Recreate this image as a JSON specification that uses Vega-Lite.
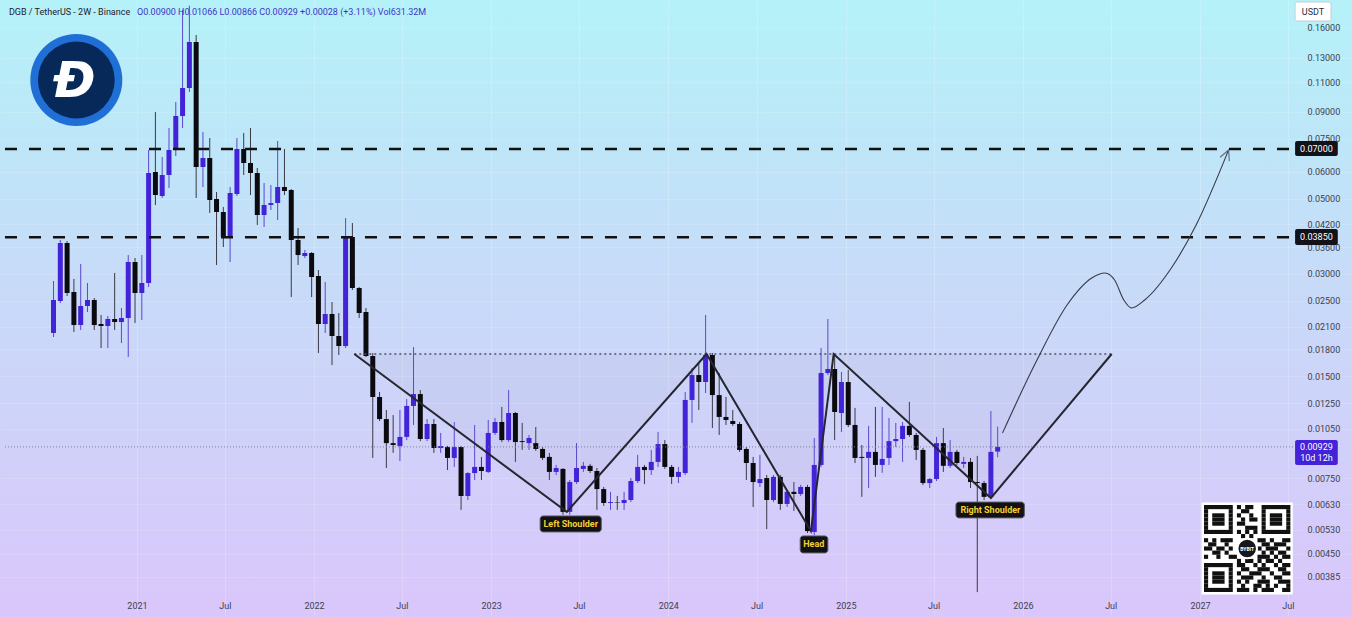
{
  "$schema": "https://vega.github.io/schema/vega-lite/v6.json",
  "width": 1352,
  "height": 617,
  "padding": 0,
  "autosize": {"type": "none"},
  "background": "#c9d8f8",
  "view": {
    "stroke": null,
    "fill": {"gradient": "linear", "x1": 0, "y1": 0, "x2": 0, "y2": 1,
      "stops": [{"offset": 0, "color": "#b4f2f8"}, {"offset": 0.45, "color": "#c7dbf8"}, {"offset": 1, "color": "#dac6fb"}]}
  },
  "datasets": {
    "candles": [
      {"t":"2020-07-13","o":0.02011,"h":0.02861,"l":0.01957,"c":0.02515},
      {"t":"2020-07-27","o":0.02498,"h":0.03777,"l":0.02464,"c":0.03701},
      {"t":"2020-08-10","o":0.03701,"h":0.03751,"l":0.02584,"c":0.02637},
      {"t":"2020-08-24","o":0.02655,"h":0.02900,"l":0.02024,"c":0.02123},
      {"t":"2020-09-07","o":0.02123,"h":0.03210,"l":0.02052,"c":0.02415},
      {"t":"2020-09-21","o":0.02415,"h":0.02822,"l":0.02318,"c":0.02515},
      {"t":"2020-10-05","o":0.02515,"h":0.02549,"l":0.02052,"c":0.02123},
      {"t":"2020-10-19","o":0.02137,"h":0.02272,"l":0.01816,"c":0.02108},
      {"t":"2020-11-02","o":0.02108,"h":0.02256,"l":0.01816,"c":0.02211},
      {"t":"2020-11-16","o":0.02211,"h":0.03020,"l":0.02052,"c":0.02166},
      {"t":"2020-11-30","o":0.02166,"h":0.02382,"l":0.01878,"c":0.02226},
      {"t":"2020-12-14","o":0.02226,"h":0.03411,"l":0.01709,"c":0.03254},
      {"t":"2020-12-28","o":0.03254,"h":0.03343,"l":0.02152,"c":0.02637},
      {"t":"2021-01-11","o":0.02637,"h":0.03411,"l":0.02196,"c":0.02822},
      {"t":"2021-01-25","o":0.02822,"h":0.06952,"l":0.02746,"c":0.05949},
      {"t":"2021-02-08","o":0.05989,"h":0.08995,"l":0.04788,"c":0.05124},
      {"t":"2021-02-22","o":0.05090,"h":0.06629,"l":0.05021,"c":0.05869},
      {"t":"2021-03-08","o":0.05869,"h":0.08070,"l":0.05373,"c":0.06952},
      {"t":"2021-03-22","o":0.07000,"h":0.09626,"l":0.06675,"c":0.08754},
      {"t":"2021-04-05","o":0.08754,"h":0.18000,"l":0.08070,"c":0.10584},
      {"t":"2021-04-19","o":0.10584,"h":0.18500,"l":0.10301,"c":0.14458},
      {"t":"2021-05-03","o":0.14458,"h":0.15161,"l":0.05021,"c":0.06195},
      {"t":"2021-05-17","o":0.06195,"h":0.07855,"l":0.05410,"c":0.06585},
      {"t":"2021-05-31","o":0.06585,"h":0.07541,"l":0.04536,"c":0.04953},
      {"t":"2021-06-14","o":0.04987,"h":0.05230,"l":0.03188,"c":0.04567},
      {"t":"2021-06-28","o":0.04567,"h":0.04723,"l":0.03602,"c":0.03855},
      {"t":"2021-07-12","o":0.03881,"h":0.05410,"l":0.03254,"c":0.05194},
      {"t":"2021-07-26","o":0.05159,"h":0.07541,"l":0.05090,"c":0.07000},
      {"t":"2021-08-09","o":0.07000,"h":0.07802,"l":0.05869,"c":0.06365},
      {"t":"2021-08-23","o":0.06365,"h":0.08070,"l":0.05124,"c":0.05949},
      {"t":"2021-09-06","o":0.05949,"h":0.06153,"l":0.04181,"c":0.04475},
      {"t":"2021-09-20","o":0.04475,"h":0.05559,"l":0.04124,"c":0.04788},
      {"t":"2021-10-04","o":0.04788,"h":0.05484,"l":0.04629,"c":0.04853},
      {"t":"2021-10-18","o":0.04853,"h":0.07390,"l":0.04325,"c":0.05410},
      {"t":"2021-11-01","o":0.05410,"h":0.07000,"l":0.05124,"c":0.05265},
      {"t":"2021-11-15","o":0.05301,"h":0.05337,"l":0.02566,"c":0.03777},
      {"t":"2021-11-29","o":0.03777,"h":0.04097,"l":0.03188,"c":0.03411},
      {"t":"2021-12-13","o":0.03388,"h":0.03529,"l":0.03343,"c":0.03458},
      {"t":"2021-12-27","o":0.03458,"h":0.03481,"l":0.02566,"c":0.02939},
      {"t":"2022-01-10","o":0.02959,"h":0.03082,"l":0.01756,"c":0.02137},
      {"t":"2022-01-24","o":0.02137,"h":0.02841,"l":0.02011,"c":0.02287},
      {"t":"2022-02-07","o":0.02287,"h":0.02481,"l":0.01618,"c":0.01970},
      {"t":"2022-02-21","o":0.01970,"h":0.02303,"l":0.01732,"c":0.01841},
      {"t":"2022-03-07","o":0.01841,"h":0.04384,"l":0.01816,"c":0.03855},
      {"t":"2022-03-21","o":0.03855,"h":0.04238,"l":0.02691,"c":0.02728},
      {"t":"2022-04-04","o":0.02728,"h":0.02745,"l":0.02226,"c":0.02303},
      {"t":"2022-04-18","o":0.02318,"h":0.02382,"l":0.01709,"c":0.01720},
      {"t":"2022-05-02","o":0.01720,"h":0.01756,"l":0.00862,"c":0.01303},
      {"t":"2022-05-16","o":0.01303,"h":0.01348,"l":0.01107,"c":0.01122},
      {"t":"2022-05-30","o":0.01122,"h":0.01193,"l":0.00805,"c":0.00953},
      {"t":"2022-06-13","o":0.00953,"h":0.01153,"l":0.00892,"c":0.00941},
      {"t":"2022-06-27","o":0.00934,"h":0.01193,"l":0.00844,"c":0.00994},
      {"t":"2022-07-11","o":0.00994,"h":0.01285,"l":0.00973,"c":0.01226},
      {"t":"2022-07-25","o":0.01226,"h":0.01828,"l":0.01078,"c":0.01329},
      {"t":"2022-08-08","o":0.01329,"h":0.01366,"l":0.00966,"c":0.00980},
      {"t":"2022-08-22","o":0.00980,"h":0.01122,"l":0.00966,"c":0.01085},
      {"t":"2022-09-05","o":0.01085,"h":0.01122,"l":0.00892,"c":0.00922},
      {"t":"2022-09-19","o":0.00922,"h":0.01021,"l":0.00892,"c":0.00934},
      {"t":"2022-10-03","o":0.00928,"h":0.00935,"l":0.00794,"c":0.00862},
      {"t":"2022-10-17","o":0.00862,"h":0.01100,"l":0.00811,"c":0.00928},
      {"t":"2022-10-31","o":0.00928,"h":0.00935,"l":0.00606,"c":0.00666},
      {"t":"2022-11-14","o":0.00666,"h":0.00783,"l":0.00648,"c":0.00778},
      {"t":"2022-11-28","o":0.00778,"h":0.01078,"l":0.00742,"c":0.00811},
      {"t":"2022-12-12","o":0.00811,"h":0.00868,"l":0.00742,"c":0.00789},
      {"t":"2022-12-26","o":0.00784,"h":0.01115,"l":0.00778,"c":0.01021},
      {"t":"2023-01-09","o":0.01021,"h":0.01130,"l":0.01007,"c":0.01100},
      {"t":"2023-01-23","o":0.01100,"h":0.01218,"l":0.00960,"c":0.00973},
      {"t":"2023-02-06","o":0.00973,"h":0.01366,"l":0.00960,"c":0.01169},
      {"t":"2023-02-20","o":0.01169,"h":0.01177,"l":0.00839,"c":0.00960},
      {"t":"2023-03-06","o":0.00966,"h":0.01093,"l":0.00910,"c":0.00960},
      {"t":"2023-03-20","o":0.00953,"h":0.01007,"l":0.00910,"c":0.00987},
      {"t":"2023-04-03","o":0.00953,"h":0.01063,"l":0.00904,"c":0.00916},
      {"t":"2023-04-17","o":0.00916,"h":0.00928,"l":0.00850,"c":0.00862},
      {"t":"2023-05-01","o":0.00868,"h":0.00892,"l":0.00742,"c":0.00784},
      {"t":"2023-05-15","o":0.00784,"h":0.00822,"l":0.00768,"c":0.00805},
      {"t":"2023-05-29","o":0.00800,"h":0.00805,"l":0.00586,"c":0.00598},
      {"t":"2023-06-12","o":0.00598,"h":0.00742,"l":0.00586,"c":0.00732},
      {"t":"2023-06-26","o":0.00732,"h":0.00953,"l":0.00723,"c":0.00805},
      {"t":"2023-07-10","o":0.00800,"h":0.00839,"l":0.00784,"c":0.00817},
      {"t":"2023-07-24","o":0.00817,"h":0.00828,"l":0.00778,"c":0.00789},
      {"t":"2023-08-07","o":0.00789,"h":0.00805,"l":0.00606,"c":0.00698},
      {"t":"2023-08-21","o":0.00698,"h":0.00708,"l":0.00623,"c":0.00635},
      {"t":"2023-09-04","o":0.00635,"h":0.00685,"l":0.00606,"c":0.00639},
      {"t":"2023-09-18","o":0.00639,"h":0.00666,"l":0.00606,"c":0.00637},
      {"t":"2023-10-02","o":0.00635,"h":0.00685,"l":0.00606,"c":0.00648},
      {"t":"2023-10-16","o":0.00648,"h":0.00752,"l":0.00639,"c":0.00737},
      {"t":"2023-10-30","o":0.00737,"h":0.00880,"l":0.00727,"c":0.00811},
      {"t":"2023-11-13","o":0.00811,"h":0.00822,"l":0.00722,"c":0.00794},
      {"t":"2023-11-27","o":0.00794,"h":0.00910,"l":0.00768,"c":0.00839},
      {"t":"2023-12-11","o":0.00839,"h":0.01028,"l":0.00811,"c":0.00947},
      {"t":"2023-12-25","o":0.00947,"h":0.00973,"l":0.00800,"c":0.00811},
      {"t":"2024-01-08","o":0.00811,"h":0.00822,"l":0.00722,"c":0.00758},
      {"t":"2024-01-22","o":0.00758,"h":0.00811,"l":0.00727,"c":0.00784},
      {"t":"2024-02-05","o":0.00778,"h":0.01348,"l":0.00768,"c":0.01277},
      {"t":"2024-02-19","o":0.01277,"h":0.01586,"l":0.01093,"c":0.01512},
      {"t":"2024-03-04","o":0.01512,"h":0.01640,"l":0.01193,"c":0.01442},
      {"t":"2024-03-18","o":0.01442,"h":0.02272,"l":0.01338,"c":0.01732},
      {"t":"2024-04-01","o":0.01732,"h":0.01756,"l":0.01056,"c":0.01320},
      {"t":"2024-04-15","o":0.01320,"h":0.01533,"l":0.01007,"c":0.01138},
      {"t":"2024-04-29","o":0.01138,"h":0.01303,"l":0.01078,"c":0.01115},
      {"t":"2024-05-13","o":0.01107,"h":0.01193,"l":0.01071,"c":0.01085},
      {"t":"2024-05-27","o":0.01085,"h":0.01100,"l":0.00898,"c":0.00910},
      {"t":"2024-06-10","o":0.00916,"h":0.00928,"l":0.00742,"c":0.00833},
      {"t":"2024-06-24","o":0.00833,"h":0.00868,"l":0.00618,"c":0.00732},
      {"t":"2024-07-08","o":0.00727,"h":0.00880,"l":0.00708,"c":0.00747},
      {"t":"2024-07-22","o":0.00752,"h":0.00768,"l":0.00532,"c":0.00648},
      {"t":"2024-08-05","o":0.00648,"h":0.00768,"l":0.00639,"c":0.00758},
      {"t":"2024-08-19","o":0.00758,"h":0.00768,"l":0.00606,"c":0.00631},
      {"t":"2024-09-02","o":0.00631,"h":0.00694,"l":0.00618,"c":0.00685},
      {"t":"2024-09-16","o":0.00685,"h":0.00732,"l":0.00602,"c":0.00675},
      {"t":"2024-09-30","o":0.00675,"h":0.00718,"l":0.00666,"c":0.00708},
      {"t":"2024-10-14","o":0.00708,"h":0.00718,"l":0.00518,"c":0.00525},
      {"t":"2024-10-28","o":0.00522,"h":0.00987,"l":0.00511,"c":0.00822},
      {"t":"2024-11-11","o":0.00822,"h":0.01816,"l":0.00811,"c":0.01533},
      {"t":"2024-11-25","o":0.01533,"h":0.02211,"l":0.01512,"c":0.01575},
      {"t":"2024-12-09","o":0.01575,"h":0.01732,"l":0.00973,"c":0.01177},
      {"t":"2024-12-23","o":0.01169,"h":0.01543,"l":0.01028,"c":0.01442},
      {"t":"2025-01-06","o":0.01442,"h":0.01564,"l":0.01063,"c":0.01078},
      {"t":"2025-01-20","o":0.01078,"h":0.01210,"l":0.00833,"c":0.00862},
      {"t":"2025-02-03","o":0.00868,"h":0.00941,"l":0.00662,"c":0.00862},
      {"t":"2025-02-17","o":0.00862,"h":0.01071,"l":0.00703,"c":0.00898},
      {"t":"2025-03-03","o":0.00898,"h":0.01218,"l":0.00758,"c":0.00822},
      {"t":"2025-03-17","o":0.00822,"h":0.01218,"l":0.00779,"c":0.00856},
      {"t":"2025-03-31","o":0.00862,"h":0.01130,"l":0.00822,"c":0.00966},
      {"t":"2025-04-14","o":0.00966,"h":0.01093,"l":0.00928,"c":0.00980},
      {"t":"2025-04-28","o":0.00980,"h":0.01100,"l":0.00839,"c":0.01071},
      {"t":"2025-05-12","o":0.01071,"h":0.01260,"l":0.00994,"c":0.01007},
      {"t":"2025-05-26","o":0.01007,"h":0.01021,"l":0.00850,"c":0.00910},
      {"t":"2025-06-09","o":0.00910,"h":0.00922,"l":0.00717,"c":0.00727},
      {"t":"2025-06-23","o":0.00727,"h":0.00752,"l":0.00703,"c":0.00747},
      {"t":"2025-07-07","o":0.00747,"h":0.00994,"l":0.00737,"c":0.00953},
      {"t":"2025-07-21","o":0.00953,"h":0.01056,"l":0.00784,"c":0.00817},
      {"t":"2025-08-04","o":0.00817,"h":0.00973,"l":0.00805,"c":0.00898},
      {"t":"2025-08-18","o":0.00898,"h":0.00910,"l":0.00822,"c":0.00833},
      {"t":"2025-09-01","o":0.00828,"h":0.00868,"l":0.00805,"c":0.00839},
      {"t":"2025-09-15","o":0.00839,"h":0.00862,"l":0.00703,"c":0.00732},
      {"t":"2025-09-29","o":0.00732,"h":0.00874,"l":0.00347,"c":0.00727},
      {"t":"2025-10-13","o":0.00727,"h":0.00737,"l":0.00648,"c":0.00662},
      {"t":"2025-10-27","o":0.00662,"h":0.01185,"l":0.00656,"c":0.00898},
      {"t":"2025-11-10","o":0.00900,"h":0.01066,"l":0.00866,"c":0.00929}
    ],
    "pat": [
      {"t":"2022-03-25","p":0.01744},
      {"t":"2023-06-06","p":0.00598},
      {"t":"2024-03-20","p":0.01744},
      {"t":"2024-10-21","p":0.00525},
      {"t":"2024-12-07","p":0.01744},
      {"t":"2025-10-27","p":0.00657},
      {"t":"2026-07-03","p":0.01744}
    ],
    "proj": [
      {"t":"2025-11-20","p":0.01021},
      {"t":"2026-01-30","p":0.01674},
      {"t":"2026-04-02","p":0.02431},
      {"t":"2026-05-23","p":0.02919},
      {"t":"2026-06-19","p":0.03020},
      {"t":"2026-07-09","p":0.02880},
      {"t":"2026-07-28","p":0.02515},
      {"t":"2026-08-13","p":0.02382},
      {"t":"2026-09-09","p":0.02515},
      {"t":"2026-11-03","p":0.03124},
      {"t":"2026-12-24","p":0.04181},
      {"t":"2027-02-28","p":0.06900}
    ],
    "arrow": [{"t":"2027-02-25","p":0.06739}],
    "levels": [
      {"p":0.07,"t1":"2020-04-04","t2":"2027-07-12"},
      {"p":0.0385,"t1":"2020-04-04","t2":"2027-07-12"}
    ],
    "cur": [{"p":0.00929,"t1":"2020-04-04","t2":"2027-07-16"}],
    "neck": [{"p":0.01744,"t1":"2022-03-25","t2":"2026-07-03"}],
    "tags": [
      {"t1":"2023-04-12","t2":"2023-08-16","p1":0.005816,"p2":0.005219,"tc":"2023-06-14","pc":0.005508,"txt":"Left Shoulder"},
      {"t1":"2024-09-29","t2":"2024-11-25","p1":0.005079,"p2":0.004527,"tc":"2024-10-27","pc":0.004808,"txt":"Head"},
      {"t1":"2025-08-16","t2":"2026-01-04","p1":0.00639,"p2":0.00574,"tc":"2025-10-26","pc":0.00606,"txt":"Right Shoulder"}
    ],
    "pbox": [
      {"t1":"2027-07-16","t2":"2027-10-12","p1":0.07390,"p2":0.06675,"kind":"level"},
      {"t1":"2027-07-16","t2":"2027-10-12","p1":0.04070,"p2":0.03651,"kind":"level"},
      {"t1":"2027-07-16","t2":"2027-10-12","p1":0.00973,"p2":0.00822,"kind":"last"}
    ],
    "ptext": [
      {"t":"2027-08-29","p":0.07,"txt":"0.07000"},
      {"t":"2027-08-29","p":0.0385,"txt":"0.03850"},
      {"t":"2027-08-29","p":0.00929,"txt":"0.00929"},
      {"t":"2027-08-29","p":0.00862,"txt":"10d 12h"}
    ],
    "usdt": [{"t1":"2027-07-16","t2":"2027-09-28","p1":0.18963,"p2":0.16672,"tc":"2027-08-22","pc":0.1772,"txt":"USDT"}],
    "logo": [{"t":"2020-08-29","p":0.11174,"txt":"Ð"}],
    "legendTitle": [{"t":"2020-04-12","p":0.1772,"txt":"DGB / TetherUS - 2W - Binance"}],
    "legendVals": [{"t":"2021-01-01","p":0.1772,"txt":"O0.00900  H0.01066  L0.00866  C0.00929  +0.00028 (+3.11%)  Vol631.32M"}],
    "qrbg": [{"t1":1799039339712,"t2":1815296410368,"p1":0.0063703,"p2":0.0034151}],
    "qrcenter": [{"t":1807167875040,"p":0.0046643,"txt":"BYBIT"}],
    "qcol": [
      {"i":0,"t":1799478720000},{"i":1,"t":1800211020480},{"i":2,"t":1800943320960},{"i":3,"t":1801675621440},
      {"i":4,"t":1802407921920},{"i":5,"t":1803140222400},{"i":6,"t":1803872522880},{"i":7,"t":1804604823360},
      {"i":8,"t":1805337123840},{"i":9,"t":1806069424320},{"i":10,"t":1806801724800},{"i":11,"t":1807534025280},
      {"i":12,"t":1808266325760},{"i":13,"t":1808998626240},{"i":14,"t":1809730926720},{"i":15,"t":1810463227200},
      {"i":16,"t":1811195527680},{"i":17,"t":1811927828160},{"i":18,"t":1812660128640},{"i":19,"t":1813392429120},
      {"i":20,"t":1814124729600},{"i":21,"t":1814857030080}
    ],
    "qrow": [
      {"i":0,"p":0.0062639},{"i":1,"p":0.0060904},{"i":2,"p":0.0059217},{"i":3,"p":0.0057577},
      {"i":4,"p":0.0055982},{"i":5,"p":0.0054432},{"i":6,"p":0.0052924},{"i":7,"p":0.0051458},
      {"i":8,"p":0.0050033},{"i":9,"p":0.0048647},{"i":10,"p":0.0047300},{"i":11,"p":0.0045990},
      {"i":12,"p":0.0044716},{"i":13,"p":0.0043478},{"i":14,"p":0.0042274},{"i":15,"p":0.0041103},
      {"i":16,"p":0.0039965},{"i":17,"p":0.0038858},{"i":18,"p":0.0037782},{"i":19,"p":0.0036735},
      {"i":20,"p":0.0035718},{"i":21,"p":0.0034729}
    ],
    "qr": [
      {"r":0,"s":1,"a":0,"b":7},{"r":0,"s":1,"a":8,"b":9},{"r":0,"s":1,"a":10,"b":12},{"r":0,"s":1,"a":14,"b":21},
      {"r":1,"s":2,"a":0,"b":1},{"r":1,"s":2,"a":6,"b":7},{"r":1,"s":2,"a":9,"b":11},{"r":1,"s":2,"a":14,"b":15},{"r":1,"s":2,"a":20,"b":21},
      {"r":2,"s":3,"a":0,"b":1},{"r":2,"s":3,"a":2,"b":5},{"r":2,"s":3,"a":6,"b":7},{"r":2,"s":3,"a":8,"b":9},{"r":2,"s":3,"a":11,"b":12},{"r":2,"s":3,"a":14,"b":15},{"r":2,"s":3,"a":16,"b":19},{"r":2,"s":3,"a":20,"b":21},
      {"r":3,"s":4,"a":0,"b":1},{"r":3,"s":4,"a":2,"b":5},{"r":3,"s":4,"a":6,"b":7},{"r":3,"s":4,"a":9,"b":10},{"r":3,"s":4,"a":11,"b":13},{"r":3,"s":4,"a":14,"b":15},{"r":3,"s":4,"a":16,"b":19},{"r":3,"s":4,"a":20,"b":21},
      {"r":4,"s":5,"a":0,"b":1},{"r":4,"s":5,"a":2,"b":5},{"r":4,"s":5,"a":6,"b":7},{"r":4,"s":5,"a":8,"b":10},{"r":4,"s":5,"a":14,"b":15},{"r":4,"s":5,"a":16,"b":19},{"r":4,"s":5,"a":20,"b":21},
      {"r":5,"s":6,"a":0,"b":1},{"r":5,"s":6,"a":6,"b":7},{"r":5,"s":6,"a":10,"b":13},{"r":5,"s":6,"a":14,"b":15},{"r":5,"s":6,"a":20,"b":21},
      {"r":6,"s":7,"a":0,"b":7},{"r":6,"s":7,"a":8,"b":9},{"r":6,"s":7,"a":10,"b":11},{"r":6,"s":7,"a":12,"b":13},{"r":6,"s":7,"a":14,"b":21},
      {"r":7,"s":8,"a":9,"b":10},{"r":7,"s":8,"a":11,"b":12},
      {"r":8,"s":9,"a":0,"b":1},{"r":8,"s":9,"a":2,"b":3},{"r":8,"s":9,"a":4,"b":7},{"r":8,"s":9,"a":13,"b":15},{"r":8,"s":9,"a":16,"b":17},{"r":8,"s":9,"a":19,"b":21},
      {"r":9,"s":10,"a":1,"b":3},{"r":9,"s":10,"a":5,"b":6},{"r":9,"s":10,"a":14,"b":16},{"r":9,"s":10,"a":17,"b":20},
      {"r":10,"s":11,"a":0,"b":2},{"r":10,"s":11,"a":3,"b":5},{"r":10,"s":11,"a":6,"b":7},{"r":10,"s":11,"a":13,"b":14},{"r":10,"s":11,"a":15,"b":18},{"r":10,"s":11,"a":20,"b":21},
      {"r":11,"s":12,"a":2,"b":4},{"r":11,"s":12,"a":5,"b":6},{"r":11,"s":12,"a":14,"b":15},{"r":11,"s":12,"a":16,"b":17},{"r":11,"s":12,"a":18,"b":20},
      {"r":12,"s":13,"a":0,"b":1},{"r":12,"s":13,"a":3,"b":4},{"r":12,"s":13,"a":6,"b":8},{"r":12,"s":13,"a":13,"b":16},{"r":12,"s":13,"a":17,"b":18},{"r":12,"s":13,"a":19,"b":21},
      {"r":13,"s":14,"a":8,"b":9},{"r":13,"s":14,"a":10,"b":12},{"r":13,"s":14,"a":13,"b":14},{"r":13,"s":14,"a":15,"b":17},{"r":13,"s":14,"a":18,"b":19},
      {"r":14,"s":15,"a":0,"b":7},{"r":14,"s":15,"a":8,"b":10},{"r":14,"s":15,"a":12,"b":13},{"r":14,"s":15,"a":14,"b":15},{"r":14,"s":15,"a":17,"b":18},{"r":14,"s":15,"a":19,"b":21},
      {"r":15,"s":16,"a":0,"b":1},{"r":15,"s":16,"a":6,"b":7},{"r":15,"s":16,"a":9,"b":11},{"r":15,"s":16,"a":13,"b":16},{"r":15,"s":16,"a":18,"b":20},
      {"r":16,"s":17,"a":0,"b":1},{"r":16,"s":17,"a":2,"b":5},{"r":16,"s":17,"a":6,"b":7},{"r":16,"s":17,"a":8,"b":9},{"r":16,"s":17,"a":11,"b":14},{"r":16,"s":17,"a":16,"b":17},{"r":16,"s":17,"a":19,"b":21},
      {"r":17,"s":18,"a":0,"b":1},{"r":17,"s":18,"a":2,"b":5},{"r":17,"s":18,"a":6,"b":7},{"r":17,"s":18,"a":9,"b":12},{"r":17,"s":18,"a":14,"b":15},{"r":17,"s":18,"a":17,"b":19},
      {"r":18,"s":19,"a":0,"b":1},{"r":18,"s":19,"a":2,"b":5},{"r":18,"s":19,"a":6,"b":7},{"r":18,"s":19,"a":8,"b":9},{"r":18,"s":19,"a":10,"b":11},{"r":18,"s":19,"a":13,"b":16},{"r":18,"s":19,"a":18,"b":21},
      {"r":19,"s":20,"a":0,"b":1},{"r":19,"s":20,"a":6,"b":7},{"r":19,"s":20,"a":9,"b":10},{"r":19,"s":20,"a":12,"b":14},{"r":19,"s":20,"a":15,"b":16},{"r":19,"s":20,"a":17,"b":18},{"r":19,"s":20,"a":20,"b":21},
      {"r":20,"s":21,"a":0,"b":7},{"r":20,"s":21,"a":8,"b":11},{"r":20,"s":21,"a":12,"b":13},{"r":20,"s":21,"a":14,"b":17},{"r":20,"s":21,"a":19,"b":21}
    ]
  },
  "layer": [
    {
      "data": {"name": "candles"},
      "mark": {"type": "rule", "strokeWidth": 1},
      "encoding": {
        "x": {
          "field": "t", "type": "temporal", "title": null,
          "scale": {"type": "utc", "domain": [{"year": 2020, "month": 4, "date": 4, "utc": true}, {"year": 2027, "month": 10, "date": 31, "utc": true}]},
          "axis": {
            "orient": "bottom", "offset": -16, "domain": false, "ticks": false, "tickSize": 0, "labelPadding": 0,
            "values": [
              {"year": 2021, "month": 1, "date": 1, "utc": true}, {"year": 2021, "month": 7, "date": 1, "utc": true},
              {"year": 2022, "month": 1, "date": 1, "utc": true}, {"year": 2022, "month": 7, "date": 1, "utc": true},
              {"year": 2023, "month": 1, "date": 1, "utc": true}, {"year": 2023, "month": 7, "date": 1, "utc": true},
              {"year": 2024, "month": 1, "date": 1, "utc": true}, {"year": 2024, "month": 7, "date": 1, "utc": true},
              {"year": 2025, "month": 1, "date": 1, "utc": true}, {"year": 2025, "month": 7, "date": 1, "utc": true},
              {"year": 2026, "month": 1, "date": 1, "utc": true}, {"year": 2026, "month": 7, "date": 1, "utc": true},
              {"year": 2027, "month": 1, "date": 1, "utc": true}, {"year": 2027, "month": 7, "date": 1, "utc": true}
            ],
            "labelExpr": "utcFormat(datum.value, '%m') == '01' ? utcFormat(datum.value, '%Y') : 'Jul'",
            "labelFontSize": 9, "labelColor": "#3d4150", "labelFlush": false, "labelOverlap": false,
            "grid": true, "gridColor": "#ffffff", "gridOpacity": 0.2, "gridWidth": 1, "title": null
          }
        },
        "y": {
          "field": "l", "type": "quantitative", "title": null,
          "scale": {"type": "log", "domain": [0.0029318, 0.19222], "nice": false},
          "axis": {
            "orient": "right", "offset": -47, "domain": false, "ticks": false, "tickSize": 0, "labelPadding": 2,
            "values": [0.16, 0.13, 0.11, 0.09, 0.075, 0.06, 0.05, 0.042, 0.036, 0.03, 0.025, 0.021, 0.018, 0.015, 0.0125, 0.0105, 0.0075, 0.0063, 0.0053, 0.0045, 0.00385],
            "format": ".5f", "labelFontSize": 9, "labelColor": "#3d4150", "labelFlush": false, "labelOverlap": false,
            "grid": true, "gridColor": "#ffffff", "gridOpacity": 0.15, "gridWidth": 1, "title": null
          }
        },
        "y2": {"field": "h"},
        "color": {"condition": {"test": "datum.c >= datum.o", "value": "#5b48d0"}, "value": "#3a3a44"}
      }
    },
    {
      "data": {"name": "pat"},
      "mark": {"type": "area", "color": "#6f7196", "opacity": 0.06},
      "encoding": {
        "x": {"field": "t", "type": "temporal", "title": null},
        "y": {"field": "p", "type": "quantitative", "title": null},
        "y2": {"datum": 0.01744}
      }
    },
    {
      "data": {"name": "candles"},
      "mark": {"type": "bar", "size": 5},
      "encoding": {
        "x": {"field": "t", "type": "temporal", "title": null},
        "y": {"field": "o", "type": "quantitative", "title": null},
        "y2": {"field": "c"},
        "color": {"condition": {"test": "datum.c >= datum.o", "value": "#4223d8"}, "value": "#0b0b0f"}
      }
    },
    {
      "data": {"name": "levels"},
      "mark": {"type": "rule", "color": "#111111", "strokeWidth": 2.5, "strokeDash": [12, 12]},
      "encoding": {
        "x": {"field": "t1", "type": "temporal", "title": null},
        "x2": {"field": "t2"},
        "y": {"field": "p", "type": "quantitative", "title": null}
      }
    },
    {
      "data": {"name": "cur"},
      "mark": {"type": "rule", "color": "#7d8096", "strokeWidth": 1, "strokeDash": [1, 2]},
      "encoding": {
        "x": {"field": "t1", "type": "temporal", "title": null},
        "x2": {"field": "t2"},
        "y": {"field": "p", "type": "quantitative", "title": null}
      }
    },
    {
      "data": {"name": "neck"},
      "mark": {"type": "rule", "color": "#4d5066", "strokeWidth": 1.5, "strokeDash": [2, 3]},
      "encoding": {
        "x": {"field": "t1", "type": "temporal", "title": null},
        "x2": {"field": "t2"},
        "y": {"field": "p", "type": "quantitative", "title": null}
      }
    },
    {
      "data": {"name": "pat"},
      "mark": {"type": "line", "color": "#262630", "strokeWidth": 2},
      "encoding": {
        "x": {"field": "t", "type": "temporal", "title": null},
        "y": {"field": "p", "type": "quantitative", "title": null}
      }
    },
    {
      "data": {"name": "proj"},
      "mark": {"type": "line", "color": "#3a3a48", "strokeWidth": 1.1, "interpolate": "monotone"},
      "encoding": {
        "x": {"field": "t", "type": "temporal", "title": null},
        "y": {"field": "p", "type": "quantitative", "title": null}
      }
    },
    {
      "data": {"name": "arrow"},
      "mark": {"type": "point", "shape": "M-1,1L0,-1L1,1", "filled": false, "color": "#3a3a48", "strokeWidth": 1.1, "size": 100, "angle": 23},
      "encoding": {
        "x": {"field": "t", "type": "temporal", "title": null},
        "y": {"field": "p", "type": "quantitative", "title": null}
      }
    },
    {
      "data": {"name": "tags"},
      "mark": {"type": "rect", "color": "#121214", "cornerRadius": 3, "stroke": "#5a5a66", "strokeWidth": 1},
      "encoding": {
        "x": {"field": "t1", "type": "temporal", "title": null},
        "x2": {"field": "t2"},
        "y": {"field": "p1", "type": "quantitative", "title": null},
        "y2": {"field": "p2"}
      }
    },
    {
      "data": {"name": "tags"},
      "mark": {"type": "text", "color": "#f3cf33", "fontSize": 9, "fontWeight": "bold", "align": "center", "baseline": "middle"},
      "encoding": {
        "x": {"field": "tc", "type": "temporal", "title": null},
        "y": {"field": "pc", "type": "quantitative", "title": null},
        "text": {"field": "txt"}
      }
    },
    {
      "data": {"name": "pbox"},
      "mark": {"type": "rect", "cornerRadius": 2},
      "encoding": {
        "x": {"field": "t1", "type": "temporal", "title": null},
        "x2": {"field": "t2"},
        "y": {"field": "p1", "type": "quantitative", "title": null},
        "y2": {"field": "p2"},
        "color": {"field": "kind", "type": "nominal", "legend": null, "scale": {"domain": ["level", "last"], "range": ["#121218", "#4322d8"]}}
      }
    },
    {
      "data": {"name": "ptext"},
      "mark": {"type": "text", "color": "#ffffff", "fontSize": 9, "align": "center", "baseline": "middle"},
      "encoding": {
        "x": {"field": "t", "type": "temporal", "title": null},
        "y": {"field": "p", "type": "quantitative", "title": null},
        "text": {"field": "txt"}
      }
    },
    {
      "data": {"name": "usdt"},
      "mark": {"type": "rect", "color": "#ffffff", "cornerRadius": 2, "stroke": "#c9ccd8", "strokeWidth": 1},
      "encoding": {
        "x": {"field": "t1", "type": "temporal", "title": null},
        "x2": {"field": "t2"},
        "y": {"field": "p1", "type": "quantitative", "title": null},
        "y2": {"field": "p2"}
      }
    },
    {
      "data": {"name": "usdt"},
      "mark": {"type": "text", "color": "#2a2e39", "fontSize": 9, "align": "center", "baseline": "middle"},
      "encoding": {
        "x": {"field": "tc", "type": "temporal", "title": null},
        "y": {"field": "pc", "type": "quantitative", "title": null},
        "text": {"field": "txt"}
      }
    },
    {
      "data": {"name": "logo"},
      "mark": {"type": "point", "shape": "circle", "filled": true, "color": "#1f6fd6", "opacity": 1, "size": 8464},
      "encoding": {
        "x": {"field": "t", "type": "temporal", "title": null},
        "y": {"field": "p", "type": "quantitative", "title": null}
      }
    },
    {
      "data": {"name": "logo"},
      "mark": {"type": "point", "shape": "circle", "filled": true, "color": "#06295a", "opacity": 1, "size": 5900},
      "encoding": {
        "x": {"field": "t", "type": "temporal", "title": null},
        "y": {"field": "p", "type": "quantitative", "title": null}
      }
    },
    {
      "data": {"name": "logo"},
      "mark": {"type": "text", "color": "#ffffff", "font": "DejaVu Sans", "fontSize": 50, "fontWeight": "bold", "fontStyle": "italic", "align": "center", "baseline": "middle", "dx": -2, "dy": 2},
      "encoding": {
        "x": {"field": "t", "type": "temporal", "title": null},
        "y": {"field": "p", "type": "quantitative", "title": null},
        "text": {"field": "txt"}
      }
    },
    {
      "data": {"name": "legendTitle"},
      "mark": {"type": "text", "color": "#1c2030", "fontSize": 9, "align": "left", "baseline": "middle"},
      "encoding": {
        "x": {"field": "t", "type": "temporal", "title": null},
        "y": {"field": "p", "type": "quantitative", "title": null},
        "text": {"field": "txt"}
      }
    },
    {
      "data": {"name": "legendVals"},
      "mark": {"type": "text", "color": "#3e35c8", "fontSize": 9, "align": "left", "baseline": "middle"},
      "encoding": {
        "x": {"field": "t", "type": "temporal", "title": null},
        "y": {"field": "p", "type": "quantitative", "title": null},
        "text": {"field": "txt"}
      }
    },
    {
      "data": {"name": "qrbg"},
      "mark": {"type": "rect", "color": "#ffffff"},
      "encoding": {
        "x": {"field": "t1", "type": "temporal", "title": null},
        "x2": {"field": "t2"},
        "y": {"field": "p1", "type": "quantitative", "title": null},
        "y2": {"field": "p2"}
      }
    },
    {
      "data": {"name": "qr"},
      "transform": [
        {"lookup": "a", "from": {"data": {"name": "qcol"}, "key": "i", "fields": ["t"]}, "as": ["t1"]},
        {"lookup": "b", "from": {"data": {"name": "qcol"}, "key": "i", "fields": ["t"]}, "as": ["t2"]},
        {"lookup": "r", "from": {"data": {"name": "qrow"}, "key": "i", "fields": ["p"]}, "as": ["p1"]},
        {"lookup": "s", "from": {"data": {"name": "qrow"}, "key": "i", "fields": ["p"]}, "as": ["p2"]}
      ],
      "mark": {"type": "rect", "color": "#111111"},
      "encoding": {
        "x": {"field": "t1", "type": "temporal", "title": null},
        "x2": {"field": "t2"},
        "y": {"field": "p1", "type": "quantitative", "title": null},
        "y2": {"field": "p2"}
      }
    },
    {
      "data": {"name": "qrcenter"},
      "mark": {"type": "point", "shape": "circle", "filled": true, "color": "#16161c", "opacity": 1, "size": 380, "stroke": "#ffffff", "strokeWidth": 2},
      "encoding": {
        "x": {"field": "t", "type": "temporal", "title": null},
        "y": {"field": "p", "type": "quantitative", "title": null}
      }
    },
    {
      "data": {"name": "qrcenter"},
      "mark": {"type": "text", "color": "#ffffff", "fontSize": 5, "fontWeight": "bold", "align": "center", "baseline": "middle"},
      "encoding": {
        "x": {"field": "t", "type": "temporal", "title": null},
        "y": {"field": "p", "type": "quantitative", "title": null},
        "text": {"field": "txt"}
      }
    }
  ],
  "config": {
    "font": "Roboto",
    "view": {"stroke": null},
    "axis": {"labelFont": "Roboto"}
  }
}
